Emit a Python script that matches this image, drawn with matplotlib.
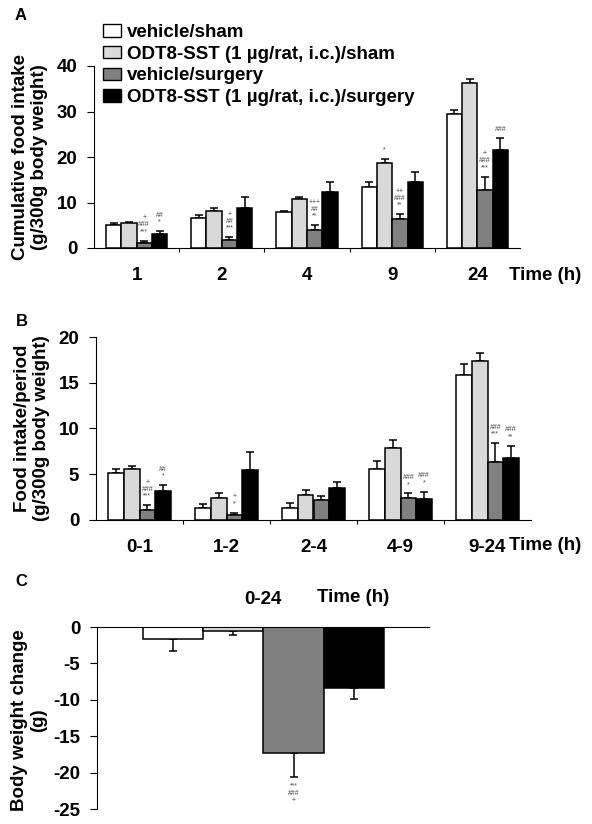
import numpy as np
import matplotlib
matplotlib.use("Agg")
import matplotlib.pyplot as plt
from matplotlib.patches import Patch

plt.rcParams['font.family'] = ['Liberation Sans', 'DejaVu Sans']
plt.rcParams['font.weight'] = 'bold'
plt.rcParams['axes.unicode_minus'] = False

series_labels = ["vehicle/sham", "ODT8-SST (1 µg/rat, i.c.)/sham",
                 "vehicle/surgery", "ODT8-SST (1 µg/rat, i.c.)/surgery"]
series_colors = ["white", "#d9d9d9", "#808080", "black"]

# panel A: cumulative food intake
times_a = ["1", "2", "4", "9", "24"]
a_vals = [[5.1, 6.6, 8.0, 13.5, 29.4],
          [5.6, 8.2, 10.7, 18.6, 36.3],
          [1.1, 1.7, 3.9, 6.4, 12.8],
          [3.0, 8.8, 12.3, 14.6, 21.5]]
a_errs = [[0.5, 0.6, 0.2, 1.0, 1.0],
          [0.2, 0.6, 0.5, 0.9, 0.9],
          [0.5, 0.65, 1.1, 1.0, 2.9],
          [0.7, 2.4, 2.2, 2.1, 2.6]]
a_marks = [(2, 0, "+\n###\n***"), (3, 0, "##\n*"), (2, 1, "+\n##\n***"),
           (2, 2, "+++\n##\n**"), (1, 3, "*"), (2, 3, "++\n###\n**"),
           (2, 4, "+\n###\n***"), (3, 4, "###")]

# panel B: food intake per period
periods_b = ["0-1", "1-2", "2-4", "4-9", "9-24"]
b_vals = [[5.1, 1.35, 1.35, 5.6, 15.9],
          [5.6, 2.4, 2.7, 7.9, 17.4],
          [1.1, 0.5, 2.2, 2.4, 6.3],
          [3.2, 5.5, 3.5, 2.3, 6.8]]
b_errs = [[0.45, 0.35, 0.55, 0.9, 1.1],
          [0.3, 0.6, 0.6, 0.8, 0.9],
          [0.5, 0.3, 0.4, 0.5, 2.1],
          [0.6, 1.9, 0.7, 0.8, 1.3]]
b_marks = [(2, 0, "+\n###\n***"), (3, 0, "##\n*"), (2, 1, "+\n*"),
           (2, 3, "###\n*"), (3, 3, "###\n*"), (2, 4, "###\n***"),
           (3, 4, "###\n**")]

# panel C: body weight change 0-24 h
c_vals = [-1.7, -0.55, -17.3, -8.4]
c_errs = [1.6, 0.6, 3.3, 1.5]
c_marks = [(2, "***\n###\n+")]

W, H = 592, 824
fs = 13.5


def box(l, r, t, b):
    return [l / W, 1 - b / H, (r - l) / W, (b - t) / H]


def grouped(ax, vals, errs, marks, labels):
    width = 0.18
    x = np.arange(len(labels))
    for i, (v, e) in enumerate(zip(vals, errs)):
        pos = x + (i - 1.5) * width
        ax.bar(pos, v, width, color=series_colors[i], edgecolor='black', linewidth=1.1, zorder=2)
        ax.errorbar(pos, v, yerr=[np.zeros(len(e)), e], fmt='none', ecolor='black',
                    elinewidth=1.1, capsize=3, capthick=1.1, zorder=1)
    for s, g, txt in marks:
        xp = x[g] + (s - 1.5) * width
        top = vals[s][g] + errs[s][g]
        ax.annotate(txt, (xp, top), xytext=(0, 4), textcoords='offset points',
                    ha='center', va='bottom', fontsize=5, color='#444444',
                    linespacing=1.0, fontweight='normal')
    ax.set_xlim(-0.5, len(labels) - 0.5)
    ax.set_xticks(x)
    ax.set_xticklabels(labels)
    ax.set_xticks(x[:-1] + 0.5, minor=True)
    ax.tick_params(axis='x', which='major', length=0, pad=14, labelsize=fs)
    ax.tick_params(axis='x', which='minor', length=3, width=0.8, direction='out')
    ax.tick_params(axis='y', length=5, width=0.8, pad=7, labelsize=fs)
    for sp in ['top', 'right']:
        ax.spines[sp].set_visible(False)
    for sp in ['left', 'bottom']:
        ax.spines[sp].set_linewidth(0.8)


fig = plt.figure(figsize=(W / 100, H / 100), dpi=100)

axA = fig.add_axes(box(94, 520, 66, 248))
grouped(axA, a_vals, a_errs, a_marks, times_a)
axA.set_ylim(0, 40)
axA.set_yticks([0, 10, 20, 30, 40])
handles = [Patch(facecolor=c, edgecolor='black', linewidth=1) for c in series_colors]
axA.legend(handles, series_labels, loc='upper left', bbox_to_anchor=(9 / 426, 1 + 42 / 182),
           frameon=False, fontsize=fs, handlelength=0.95, handleheight=0.65,
           handletextpad=0.35, labelspacing=0.25, borderpad=0, borderaxespad=0)
fig.text(545 / W, 1 - 275 / H, "Time (h)", ha='center', va='center', fontsize=fs)
fig.text(30 / W, 1 - 157 / H, "Cumulative food intake\n(g/300g body weight)", rotation=90,
         ha='center', va='center', fontsize=fs, multialignment='center')
fig.text(21 / W, 1 - 16 / H, "A", ha='center', va='center', fontsize=12)

axB = fig.add_axes(box(96, 531, 337, 520))
grouped(axB, b_vals, b_errs, b_marks, periods_b)
axB.set_ylim(0, 20)
axB.set_yticks([0, 5, 10, 15, 20])
fig.text(545 / W, 1 - 546 / H, "Time (h)", ha='center', va='center', fontsize=fs)
fig.text(32 / W, 1 - 428 / H, "Food intake/period\n(g/300g body weight)", rotation=90,
         ha='center', va='center', fontsize=fs, multialignment='center')
fig.text(22 / W, 1 - 321 / H, "B", ha='center', va='center', fontsize=12)

axC = fig.add_axes(box(97, 429, 627, 809))
xc = np.arange(len(c_vals))
axC.bar(xc, c_vals, 1.0, color=series_colors, edgecolor='black', linewidth=1.1, zorder=2)
axC.errorbar(xc, c_vals, yerr=[c_errs, np.zeros(len(c_errs))], fmt='none', ecolor='black',
             elinewidth=1.1, capsize=3, capthick=1.1, zorder=1)
for s, txt in c_marks:
    axC.annotate(txt, (xc[s], c_vals[s] - c_errs[s]), xytext=(0, -4), textcoords='offset points',
                 ha='center', va='top', fontsize=5, color='#444444', linespacing=1.0,
                 fontweight='normal')
axC.set_xlim(-1.263, 4.247)
axC.set_ylim(-25, 0)
axC.set_yticks([0, -5, -10, -15, -20, -25])
axC.set_xticks([])
axC.tick_params(axis='y', length=5, width=0.8, pad=7, labelsize=fs)
for sp in ['bottom', 'right']:
    axC.spines[sp].set_visible(False)
for sp in ['left', 'top']:
    axC.spines[sp].set_linewidth(0.8)
fig.text(263 / W, 1 - 600 / H, "0-24", ha='center', va='center', fontsize=fs)
fig.text(353 / W, 1 - 598 / H, "Time (h)", ha='center', va='center', fontsize=fs)
fig.text(29 / W, 1 - 720 / H, "Body weight change\n(g)", rotation=90,
         ha='center', va='center', fontsize=fs, multialignment='center')
fig.text(21 / W, 1 - 582 / H, "C", ha='center', va='center', fontsize=12)

fig.savefig("out.png", dpi=100)
